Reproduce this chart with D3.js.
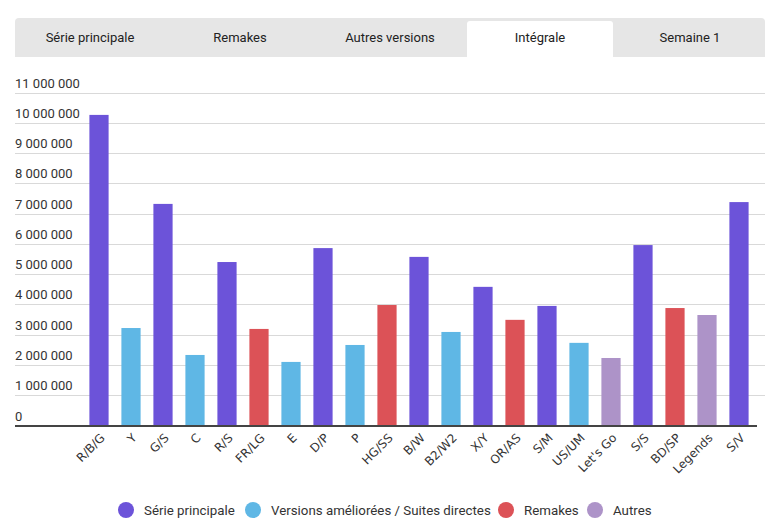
<!DOCTYPE html>
<html>
<head>
<meta charset="utf-8">
<script src="https://cdn.jsdelivr.net/npm/d3@7"></script>
<style>
    body { margin: 0; background: #fff; font-family: Roboto, sans-serif; }
    svg { display: block; }
</style>
</head>
<body>
<svg id="chart" width="778" height="526"></svg>
<script>
// onglets
const tabs = ["Série principale", "Remakes", "Autres versions", "Intégrale", "Semaine 1"];
const activeTab = "Intégrale";

// données
const games = ["R/B/G", "Y", "G/S", "C", "R/S", "FR/LG", "E", "D/P", "P", "HG/SS", "B/W", "B2/W2",
    "X/Y", "OR/AS", "S/M", "US/UM", "Let's Go", "S/S", "BD/SP", "Legends", "S/V"];
const sales = [10260000, 3220000, 7320000, 2330000, 5400000, 3190000, 2100000, 5860000, 2660000, 3980000,
    5570000, 3090000, 4580000, 3490000, 3950000, 2730000, 2230000, 5960000, 3880000, 3650000, 7380000];
const types = ["main", "enh", "main", "enh", "main", "remake", "enh", "main", "enh", "remake", "main", "enh",
    "main", "remake", "main", "enh", "other", "main", "remake", "other", "main"];

const legendKeys = ["main", "enh", "remake", "other"];
const legendLabels = ["Série principale", "Versions améliorées / Suites directes", "Remakes", "Autres"];
const legendColors = ["#6c53d9", "#5fb7e5", "#dc5257", "#ad93c8"];
const yTicks = [0, 1000000, 2000000, 3000000, 4000000, 5000000, 6000000, 7000000, 8000000, 9000000, 10000000, 11000000];

const svg = d3.select("#chart");
const color = d3.scaleOrdinal().domain(legendKeys).range(legendColors);
const fmt = d3.formatLocale({ decimal: ",", thousands: " ", grouping: [3], currency: ["", ""] }).format(",");

// barre d'onglets
const tabX = d3.scaleBand().domain(tabs).range([15, 765]);
svg.append("path")
    .attr("d", "M15,57 V22 Q15,18 19,18 H761 Q765,18 765,22 V57 Z")
    .attr("fill", "#e6e6e6");

const tabG = svg.selectAll(".tab")
    .data(tabs)
    .enter().append("g")
    .attr("class", "tab");

tabG.filter(d => d === activeTab).append("path")
    .attr("d", d => {
        const x0 = tabX(d) + 2, x1 = tabX(d) + tabX.bandwidth() - 2;
        return `M${x0},57 V24 Q${x0},21 ${x0 + 3},21 H${x1 - 3} Q${x1},21 ${x1},24 V57 Z`;
    })
    .attr("fill", "#fff");

tabG.append("text")
    .attr("x", d => tabX(d) + tabX.bandwidth() / 2)
    .attr("y", 42)
    .attr("text-anchor", "middle")
    .style("font-size", "13px")
    .style("fill", "#222")
    .text(d => d);

// échelles
const y = d3.scaleLinear().domain([0, 11000000]).range([425.5, 92.5]);
const x = d3.scaleBand().domain(games).range([83, 755]).paddingInner(0.4).paddingOuter(0.2);

// grille + étiquettes
const grid = svg.append("g");
grid.selectAll("line")
    .data(yTicks.slice(1))
    .enter().append("line")
    .attr("x1", 15).attr("x2", 765)
    .attr("y1", d => Math.round(y(d)) + 0.5)
    .attr("y2", d => Math.round(y(d)) + 0.5)
    .attr("stroke", "#d9d9d9");

grid.selectAll("text")
    .data(yTicks)
    .enter().append("text")
    .attr("x", 15)
    .attr("y", d => y(d) - 5)
    .style("font-size", "13px")
    .style("fill", "#333")
    .text(d => fmt(d));

// barres
svg.selectAll(".bar")
    .data(games)
    .enter().append("rect")
    .attr("class", "bar")
    .attr("x", d => x(d))
    .attr("width", x.bandwidth())
    .attr("y", (d, i) => y(sales[i]))
    .attr("height", (d, i) => y(0) - y(sales[i]))
    .attr("fill", (d, i) => color(types[i]));

// axe
svg.append("line")
    .attr("x1", 15).attr("x2", 757)
    .attr("y1", 426).attr("y2", 426)
    .attr("stroke", "#444")
    .attr("stroke-width", 2);

const xAxis = svg.append("g")
    .attr("transform", "translate(0,426)")
    .call(d3.axisBottom(x).tickSize(0));
xAxis.select(".domain").remove();
xAxis.selectAll("text")
    .attr("transform", "translate(4,5) rotate(-45)")
    .attr("dy", "0.35em")
    .attr("dx", "-0.3em")
    .style("text-anchor", "end")
    .style("font-family", "DejaVu Sans, sans-serif")
    .style("font-size", "12px")
    .style("fill", "#333");

// légende
const legendX = [126, 253, 506, 595];
const legend = svg.selectAll(".legend")
    .data(legendKeys)
    .enter().append("g")
    .attr("class", "legend")
    .attr("transform", (d, i) => `translate(${legendX[i]},510)`);

legend.append("circle")
    .attr("r", 8)
    .attr("fill", d => color(d));

legend.append("text")
    .attr("x", 18)
    .attr("y", 4.5)
    .style("font-size", "13.3px")
    .style("fill", "#333")
    .text((d, i) => legendLabels[i]);
</script>
</body>
</html>
